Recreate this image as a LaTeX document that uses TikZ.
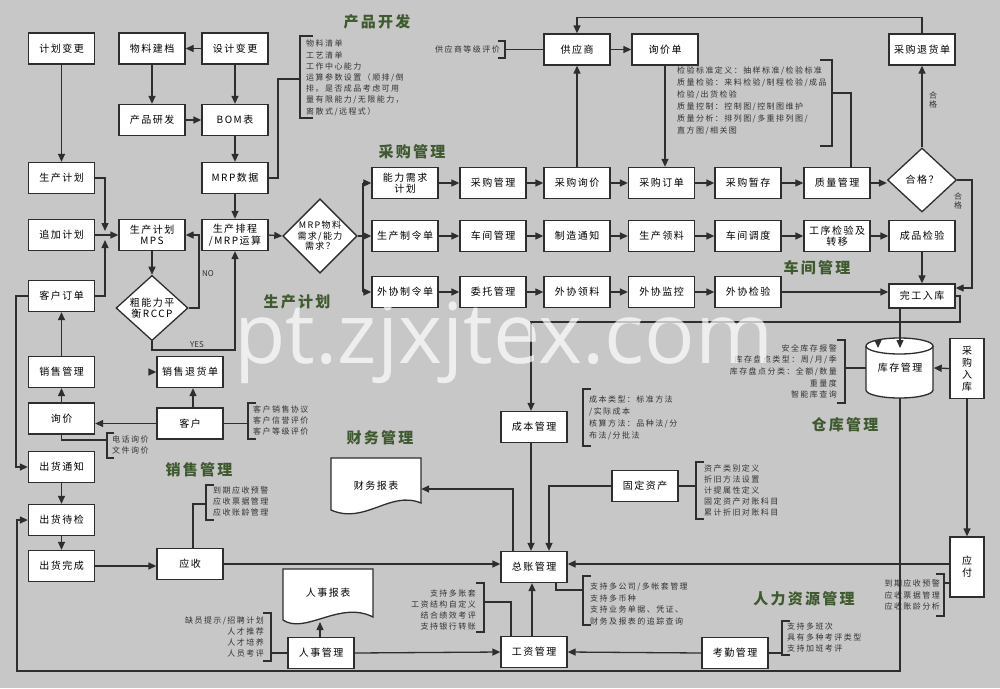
\documentclass[tikz,border=0pt]{standalone}
\usepackage{fontspec}
\setmainfont{Noto Sans CJK SC}
\newfontfamily\bxf{Noto Sans CJK SC}[LetterSpace=15]
\newfontfamily\ntf{Noto Sans CJK SC}[LetterSpace=18]
\newfontfamily\wmf{Open Sans}
\usetikzlibrary{arrows.meta,shapes.geometric}
\definecolor{bg}{HTML}{C7C7C7}
\definecolor{lc}{HTML}{2E2E2E}
\definecolor{tc}{HTML}{3F5A2E}
\definecolor{nc}{HTML}{333333}
\begin{document}
\begin{tikzpicture}[x=1pt,y=-1pt,
 ln/.style={draw=lc,line width=1.3pt},
 arr/.style={draw=lc,line width=1.3pt,-{Triangle[length=8pt,width=7pt]}},
 box/.style={draw=lc,fill=white,line width=1.3pt,minimum width=66pt,minimum height=31pt,inner sep=1pt,align=center,font=\bxf\fontsize{10}{11.5}\selectfont},
 vbox/.style={box,minimum width=34pt,minimum height=60pt},
 dia/.style={diamond,draw=lc,fill=white,line width=1.3pt,minimum width=70pt,minimum height=64pt,inner sep=0pt,align=center,font=\bxf\fontsize{9}{10.5}\selectfont},
 plain/.style={inner sep=0pt,align=center,font=\bxf\fontsize{10}{11.5}\selectfont},
 note/.style={inner sep=0pt,align=left,text=nc,font=\ntf\fontsize{8}{11.2}\selectfont},
 noter/.style={note,align=right},
 lab/.style={inner sep=0pt,align=center,text=nc,font=\ntf\fontsize{8}{9.5}\selectfont},
 ttl/.style={inner sep=0pt,text=tc,font=\bxf\bfseries\fontsize{15}{15}\selectfont},
 brk/.style={draw=lc,line width=1.1pt},
 wm/.style={inner sep=0pt,text=white,text opacity=0.7,font=\wmf\fontsize{84}{84}\selectfont}
]
\useasboundingbox (0,0) rectangle (1000,688);
\fill[bg] (0,0) rectangle (1000,688);

% ---------- document shapes and cylinder ----------
\path[fill=white,draw=lc,line width=1.3pt] (331,458) -- (421,458) -- (421,503)
  .. controls (390,490) and (365,525) .. (331,510) -- cycle;
\node[plain,minimum width=90pt,minimum height=50pt] (cwbb) at (376,486) {财务报表};
\path[fill=white,draw=lc,line width=1.3pt] (283,569) -- (373,569) -- (373,617)
  .. controls (340,600) and (305,635) .. (283,620) -- cycle;
\node[plain,minimum width=90pt,minimum height=50pt] (rsbb) at (328,593) {人事报表};
\coordinate (rsbot) at (320,622);
\path[fill=white,draw=lc,line width=1.3pt] (866,346) -- (866,390)
  arc[start angle=180,end angle=360,x radius=33.5pt,y radius=8pt] -- (933,346)
  arc[start angle=0,end angle=180,x radius=33.5pt,y radius=8pt] -- cycle;
\draw[lc,line width=1.3pt] (866,346) arc[start angle=180,end angle=360,x radius=33.5pt,y radius=8pt];
\node[plain,minimum width=67pt,minimum height=60pt] (kc) at (900,368) {\raisebox{-4pt}{库存管理}};

% ---------- product development ----------
\node[box] (jhbg) at (61.5,48.5) {计划变更};
\node[box] (wljd) at (152,48.5) {物料建档};
\node[box] (sjbg) at (235,48.5) {设计变更};
\node[box] (cpyf) at (152,120) {产品研发};
\node[box] (bom) at (235,120) {BOM表};
\node[box] (mrpsj) at (235,178) {MRP数据};
\node[box] (scjh) at (61.5,178) {生产计划};
\node[box] (zjjh) at (61.5,235) {追加计划};
\node[box] (mps) at (152,235) {生产计划\\MPS};
\node[box] (scpc) at (235,235) {生产排程\\/MRP运算};
\node[dia] (mrpd) at (320,236) {MRP物料\\需求/能力\\需求？};
\node[dia,minimum width=72pt,font=\bxf\fontsize{10}{11.5}\selectfont] (rccp) at (152,308) {粗能力平\\衡RCCP};

% ---------- sales ----------
\node[box] (khdd) at (61.5,296) {客户订单};
\node[box] (xsgl) at (61.5,372) {销售管理};
\node[box] (xsth) at (190,372) {销售退货单};
\node[box] (xj) at (61.5,418.5) {询价};
\node[box] (kh) at (190,423.5) {客户};
\node[box] (chtz) at (61.5,467) {出货通知};
\node[box] (chdj) at (61.5,520) {出货待检};
\node[box] (chwc) at (61.5,566) {出货完成};
\node[box] (ys) at (190,564) {应收};

% ---------- finance / HR ----------
\node[box] (zz) at (534,567) {总账管理};
\node[box] (cbgl) at (534,427) {成本管理};
\node[box] (gdzc) at (645,486) {固定资产};
\node[box] (gz) at (534,652) {工资管理};
\node[box] (rs) at (321,653) {人事管理};
\node[box] (kq) at (735,653) {考勤管理};
\node[vbox,font=\bxf\fontsize{10}{12}\selectfont] (yf) at (967,567) {应\\付};
\node[vbox,font=\bxf\fontsize{10}{12}\selectfont] (cgrk) at (967,368.5) {采\\购\\入\\库};

% ---------- purchasing / workshop ----------
\node[box] (gys) at (577,49.5) {供应商};
\node[box] (xjd) at (665,49.5) {询价单};
\node[box] (cgth) at (922,49.5) {采购退货单};
\node[box] (nlxq) at (405,183) {能力需求\\计划};
\node[box] (cggl) at (493,183) {采购管理};
\node[box] (cgxj) at (577,183) {采购询价};
\node[box] (cgdd) at (661.5,183) {采购订单};
\node[box] (cgzc) at (748,183) {采购暂存};
\node[box] (zlgl) at (837,183) {质量管理};
\node[dia,minimum width=69pt,font=\bxf\fontsize{10}{11.5}\selectfont] (hg) at (922,180) {合格？};
\node[box] (sczl) at (405,236) {生产制令单};
\node[box] (cjgl) at (493,236) {车间管理};
\node[box] (zztz) at (577,236) {制造通知};
\node[box] (scll) at (661.5,236) {生产领料};
\node[box] (cjdd) at (748,236) {车间调度};
\node[box] (gxjy) at (837,236) {工序检验及\\转移};
\node[box] (cpjy) at (922,236) {成品检验};
\node[box] (wxzl) at (405,292) {外协制令单};
\node[box] (wtgl) at (493,292) {委托管理};
\node[box] (wxll) at (577,292) {外协领料};
\node[box] (wxjk) at (661.5,292) {外协监控};
\node[box] (wxjy) at (748,292) {外协检验};
\node[box,minimum height=24pt] (wgrk) at (922,296) {完工入库};

% ---------- notes and brackets ----------
\node[note,anchor=north west] (pdn) at (306,40) {物料清单\\工艺清单\\工作中心能力\\运算参数设置（顺排/倒\\排。是否成品考虑可用\\量有限能力/无限能力，\\离散式/远程式）};
\draw[brk] (313,36) -- (300,36) -- (300,118) -- (313,118);
\coordinate (pdb) at (300,79);
\node[note,anchor=east] (gyspj) at (500,49) {供应商等级评价};
\draw[brk] (498,41) -- (505,41) -- (505,58) -- (498,58);
\coordinate (gysb) at (505,49.5);
\node[note,anchor=north west,font=\ntf\fontsize{8}{12}\selectfont] (qn) at (677,67) {检验标准定义：抽样标准/检验标准\\质量检验：来料检验/制程检验/成品\\检验/出货检验\\质量控制：控制图/控制图维护\\质量分析：排列图/多重排列图/\\直方图/相关图};
\draw[brk] (820,60) -- (832,60) -- (832,146) -- (820,146);
\coordinate (qb) at (832,93);
\node[note,anchor=north west,font=\ntf\fontsize{8}{11}\selectfont] (khn) at (253,406) {客户销售协议\\客户信誉评价\\客户等级评价};
\draw[brk] (256,403) -- (248,403) -- (248,439) -- (256,439);
\coordinate (khb) at (248,423.5);
\node[note,anchor=north west,font=\ntf\fontsize{8}{11}\selectfont] (xjn) at (112,436) {电话询价\\文件询价};
\draw[brk] (114,433) -- (107,433) -- (107,458) -- (114,458);
\coordinate (xjb) at (107,440);
\node[note,anchor=north west,font=\ntf\fontsize{8}{11}\selectfont] (ysn) at (213,487) {到期应收预警\\应收票据管理\\应收账龄管理};
\draw[brk] (214,485) -- (206,485) -- (206,520) -- (214,520);
\coordinate (ysb) at (206,504);
\node[note,anchor=north west,font=\ntf\fontsize{8}{11.7}\selectfont] (cbn) at (589,396) {成本类型：标准方法\\/实际成本\\核算方法：品种法/分\\布法/分批法};
\draw[brk] (591,389) -- (583,389) -- (583,446) -- (591,446);
\node[note,anchor=north west,font=\ntf\fontsize{8}{11}\selectfont] (gdn) at (704,465) {资产类别定义\\折旧方法设置\\计提属性定义\\固定资产对账科目\\累计折旧对账科目};
\draw[brk] (704,462) -- (696,462) -- (696,519) -- (704,519);
\coordinate (gdb) at (696,486);
\node[note,anchor=north west,font=\ntf\fontsize{8}{11.5}\selectfont] (zzn) at (590,583) {支持多公司/多帐套管理\\支持多币种\\支持业务单据、凭证、\\财务及报表的追踪查询};
\draw[brk] (591,576) -- (583,576) -- (583,625) -- (591,625);
\coordinate (zzb) at (583,590);
\node[noter,anchor=north east,font=\ntf\fontsize{8}{11}\selectfont] (gzn) at (476,590) {支持多账套\\工资结构自定义\\结合绩效考评\\支持银行转账};
\draw[brk] (476,583) -- (484,583) -- (484,632) -- (476,632);
\coordinate (gzb) at (484,602);
\node[noter,anchor=north east,font=\ntf\fontsize{8}{11}\selectfont] (rsn) at (264,617) {缺员提示/招聘计划\\人才推荐\\人才培养\\人员考评};
\draw[brk] (263,613) -- (271,613) -- (271,661) -- (263,661);
\coordinate (rsb) at (271,653);
\node[note,anchor=north west,font=\ntf\fontsize{8}{11}\selectfont] (kqn) at (787,623) {支持多班次\\具有多种考评类型\\支持加班考评};
\draw[brk] (790,621) -- (782,621) -- (782,655) -- (790,655);
\coordinate (kqb) at (782,653);
\node[noter,anchor=north east,font=\ntf\fontsize{8}{11.5}\selectfont] (yfn) at (940,580) {到期应收预警\\应收票据管理\\应收账龄分析};
\draw[brk] (936,574) -- (944,574) -- (944,616) -- (936,616);
\coordinate (yfb) at (944,583);
\node[noter,anchor=north east,font=\ntf\fontsize{8}{11.7}\selectfont] (kcn) at (837,344) {安全库存报警\\库存盘点类型：周/月/季\\库存盘点分类：全额/数量\\重量度\\智能库查询};
\draw[brk] (837,340) -- (845,340) -- (845,403) -- (837,403);
\coordinate (kcb) at (845,368);

% ---------- connectors: product development ----------
\draw[arr] (sjbg.west) -- (wljd.east);
\draw[arr] (wljd.south) -- (cpyf.north);
\draw[arr] (cpyf.east) -- (bom.west);
\draw[arr] (sjbg.south) -- (bom.north);
\draw[arr] (bom.south) -- (mrpsj.north);
\draw[ln] (mrpsj.east) -- (278,178) |- (pdb);
\draw[arr] (jhbg.south) -- (scjh.north);
\draw[arr] (scjh.east) -| (105,231);
\draw[arr] (khdd.east) -| (105,240);
\draw[arr] (zjjh.east) -- (mps.west);
\draw[arr] (mrpsj.south) -- (scpc.north);
\draw[arr] (mps.south) -- (rccp.north);
\draw[arr] (rccp.east) -- (199,308) |- (mps.east);
\node[lab,font=\fontsize{8}{9}\selectfont] (no) at (208,274) {NO};
\draw[arr] (rccp.south) -- (152,350) -| (scpc.south);
\node[lab,font=\fontsize{8}{9}\selectfont] (yes) at (197,345) {YES};
\draw[arr] (scpc.east) -- (mrpd.west);
\draw[ln] (mrpd.east) -- (363,236);
\draw[ln] (363,183) -- (363,292);
\draw[arr] (363,183) -- (nlxq.west);
\draw[arr] (363,236) -- (sczl.west);
\draw[arr] (363,292) -- (wxzl.west);

% ---------- rows ----------
\draw[arr] (nlxq.east) -- (cggl.west);
\draw[arr] (cggl.east) -- (cgxj.west);
\draw[arr] (cgxj.east) -- (cgdd.west);
\draw[arr] (cgdd.east) -- (cgzc.west);
\draw[arr] (cgzc.east) -- (zlgl.west);
\draw[arr] (zlgl.east) -- (zlgl.east -| hg.west);
\draw[arr] (sczl.east) -- (cjgl.west);
\draw[arr] (cjgl.east) -- (zztz.west);
\draw[arr] (zztz.east) -- (scll.west);
\draw[arr] (scll.east) -- (cjdd.west);
\draw[arr] (cjdd.east) -- (gxjy.west);
\draw[arr] (gxjy.east) -- (cpjy.west);
\draw[arr] (wxzl.east) -- (wtgl.west);
\draw[arr] (wtgl.east) -- (wxll.west);
\draw[arr] (wxll.east) -- (wxjk.west);
\draw[arr] (wxjk.east) -- (wxjy.west);
\draw[arr] (wxjy.east) -- (wxjy.east -| wgrk.west);

% ---------- purchasing loop ----------
\draw[arr] (cgxj.north) -- (gys.south);
\draw[arr] (gys.east) -- (xjd.west);
\draw[arr] (xjd.south) -- (xjd.south |- cgdd.north);
\draw[arr] (cgth.north) |- ([yshift=16pt]gys.north) -- (gys.north);
\draw[ln] (gys.west) -- (gysb);
\draw[ln] ([xshift=14pt]zlgl.north) |- (qb);
\draw[arr] (hg.north) -- (cgth.south);
\node[lab] (hg1) at (933,100) {合\\格};
\draw[arr] (hg.east) -| (972,288) -- ([yshift=8pt]wgrk.east);
\node[lab] (hg2) at (958,201) {合\\格};
\draw[arr] (cpjy.south) -- (wgrk.north);
\draw[arr] (wgrk.east) -- (960,296) -- (960,322) -| ([xshift=-3pt]cbgl.north);
\draw[arr] ([xshift=-22pt]wgrk.south) -- (900,348);
\draw[arr] (878,340) -- (878,348);
\draw[arr] (cgrk.west) -- (kc.east);
\draw[arr] (cgrk.south) -- (yf.north);
\draw[ln] (kcb) -- (kc.west);
\draw[arr] (kc.south) |- (17,671) |- (chdj.west);

% ---------- sales connectors ----------
\draw[arr] (khdd.west) -- (16,296) |- (chtz.west);
\draw[arr] (xsgl.north) -- (khdd.south);
\draw[arr] (xj.north) -- (xsgl.south);
\draw[arr] (kh.west) -- (kh.west -| xj.east);
\draw[arr] ([xshift=3pt]kh.north) -- ([xshift=3pt]xsth.south);
\draw[arr] (149,372) -- (xsth.west);
\draw[ln] (kh.east) -- (khb);
\draw[ln] (xj.south) |- (xjb);
\draw[arr] (chtz.south) -- (chdj.north);
\draw[arr] (chdj.south) -- (chwc.north);
\draw[arr] (chwc.east) -- (chwc.east -| ys.west);
\draw[ln] ([xshift=3pt]ys.north) |- (ysb);
\draw[arr] (ys.east) -- (ys.east -| zz.west);

% ---------- finance / HR connectors ----------
\draw[arr] ([xshift=-3pt]cbgl.south) -- ([xshift=-3pt]zz.north);
\draw[arr] (gdzc.west) -| ([xshift=15pt]zz.north);
\draw[ln] (gdzc.east) -- (gdb);
\draw[arr] ([xshift=-21pt]zz.north) |- (cwbb.east |- 0,489);
\draw[arr] (yf.west |- 0,564) -- (zz.east |- 0,564);
\draw[ln] (yfb) -- (yfb -| yf.west);
\draw[ln] ([xshift=22pt]zz.south) |- (zzb);
\draw[arr] ([xshift=-2pt]gz.north) -- ([xshift=-2pt]zz.south);
\draw[ln] ([xshift=-23pt]gz.north) |- (gzb);
\draw[arr] (rs.east) -- (gz.west);
\draw[arr] ([xshift=-1pt]rs.north) -- (rsbot);
\draw[ln] (rs.west) -- (rsb);
\draw[arr] (kq.west) -- (gz.east);
\draw[ln] (kq.east) -- (kqb);

% ---------- section titles ----------
\node[ttl] (t1) at (377,22) {产品开发};
\node[ttl] (t2) at (412,152) {采购管理};
\node[ttl] (t3) at (297,302) {生产计划};
\node[ttl] (t4) at (817,268) {车间管理};
\node[ttl] (t5) at (199,470) {销售管理};
\node[ttl] (t6) at (380,438) {财务管理};
\node[ttl] (t7) at (845,425) {仓库管理};
\node[ttl] (t8) at (804,599) {人力资源管理};

% ---------- watermark ----------
\node[wm,anchor=base west] (wmk) at (234,363) {pt.zjxjtex.com};
\end{tikzpicture}
\end{document}
